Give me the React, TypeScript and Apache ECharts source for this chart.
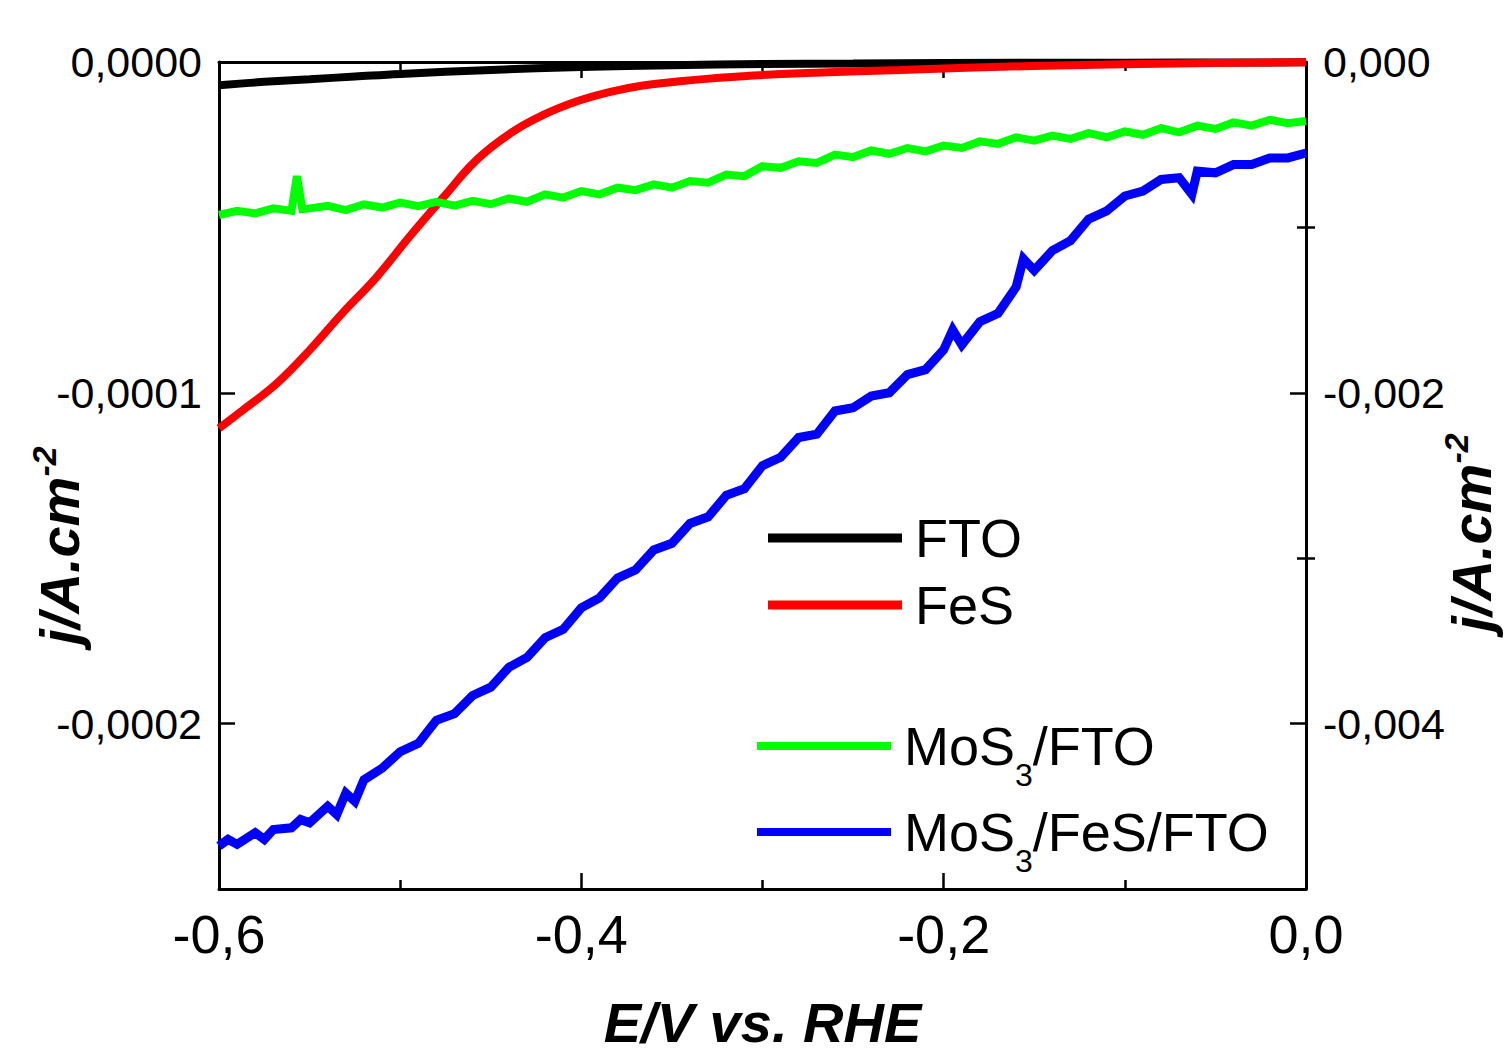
import React, { useEffect, useRef } from "react";
import * as echarts from "echarts";

// ---------- data (E in V vs. RHE, j in A/cm2) ----------
const potentialFTO = [-0.6, -0.575, -0.55, -0.525, -0.5, -0.45, -0.4, -0.35, -0.3, -0.25, -0.2, -0.1, 0];
const currentFTO = [-7.0e-6, -6.0e-6, -5.2e-6, -4.4e-6, -3.6e-6, -2.4e-6, -1.5e-6, -1.0e-6, -0.6e-6, -0.45e-6, -0.3e-6, -0.2e-6, -0.1e-6];

const potentialFeS = [-0.6, -0.587, -0.568, -0.55, -0.532, -0.513, -0.495, -0.476, -0.458, -0.439, -0.421, -0.402, -0.384, -0.366, -0.347, -0.331, -0.305, -0.279, -0.224, -0.151, -0.051, 0];
const currentFeS = [-1.107e-4, -1.053e-4, -0.971e-4, -0.871e-4, -0.760e-4, -0.650e-4, -0.529e-4, -0.408e-4, -0.297e-4, -0.215e-4, -0.160e-4, -0.118e-4, -0.090e-4, -0.071e-4, -0.059e-4, -0.051e-4, -0.041e-4, -0.034e-4, -0.024e-4, -0.012e-4, -0.003e-4, -0.001e-4];

const potentialMoS3 = [-0.6, -0.59, -0.58, -0.57, -0.56, -0.557, -0.554, -0.55, -0.54, -0.53, -0.52, -0.51, -0.5, -0.49, -0.48, -0.47, -0.46, -0.45, -0.44, -0.43, -0.42, -0.41, -0.4, -0.39, -0.38, -0.37, -0.36, -0.35, -0.34, -0.33, -0.32, -0.31, -0.3, -0.29, -0.28, -0.27, -0.26, -0.25, -0.24, -0.23, -0.22, -0.21, -0.2, -0.19, -0.18, -0.17, -0.16, -0.15, -0.14, -0.13, -0.12, -0.11, -0.1, -0.09, -0.08, -0.07, -0.06, -0.05, -0.04, -0.03, -0.02, -0.01, 0];
const currentMoS3 = [-0.925e-3, -0.900e-3, -0.915e-3, -0.885e-3, -0.900e-3, -0.690e-3, -0.890e-3, -0.885e-3, -0.870e-3, -0.895e-3, -0.860e-3, -0.880e-3, -0.850e-3, -0.872e-3, -0.845e-3, -0.868e-3, -0.840e-3, -0.860e-3, -0.825e-3, -0.845e-3, -0.800e-3, -0.820e-3, -0.780e-3, -0.800e-3, -0.760e-3, -0.775e-3, -0.740e-3, -0.760e-3, -0.720e-3, -0.730e-3, -0.680e-3, -0.690e-3, -0.630e-3, -0.640e-3, -0.600e-3, -0.610e-3, -0.560e-3, -0.575e-3, -0.535e-3, -0.555e-3, -0.520e-3, -0.540e-3, -0.505e-3, -0.520e-3, -0.480e-3, -0.495e-3, -0.455e-3, -0.475e-3, -0.445e-3, -0.465e-3, -0.430e-3, -0.455e-3, -0.420e-3, -0.440e-3, -0.400e-3, -0.425e-3, -0.385e-3, -0.405e-3, -0.365e-3, -0.385e-3, -0.350e-3, -0.370e-3, -0.357e-3];

const potentialMoS3FeS = [-0.6, -0.595, -0.59, -0.58, -0.575, -0.57, -0.56, -0.555, -0.55, -0.54, -0.535, -0.53, -0.525, -0.52, -0.51, -0.5, -0.49, -0.48, -0.47, -0.46, -0.45, -0.44, -0.43, -0.42, -0.41, -0.4, -0.39, -0.38, -0.37, -0.36, -0.35, -0.34, -0.33, -0.32, -0.31, -0.3, -0.29, -0.28, -0.27, -0.26, -0.25, -0.24, -0.23, -0.22, -0.21, -0.2, -0.195, -0.19, -0.18, -0.17, -0.16, -0.156, -0.15, -0.14, -0.13, -0.12, -0.11, -0.1, -0.09, -0.08, -0.07, -0.063, -0.06, -0.05, -0.04, -0.03, -0.02, -0.01, 0];
const currentMoS3FeS = [-4.74e-3, -4.70e-3, -4.73e-3, -4.66e-3, -4.70e-3, -4.64e-3, -4.63e-3, -4.58e-3, -4.60e-3, -4.50e-3, -4.55e-3, -4.42e-3, -4.47e-3, -4.34e-3, -4.27e-3, -4.17e-3, -4.12e-3, -3.98e-3, -3.94e-3, -3.83e-3, -3.78e-3, -3.66e-3, -3.60e-3, -3.48e-3, -3.43e-3, -3.30e-3, -3.24e-3, -3.12e-3, -3.07e-3, -2.95e-3, -2.91e-3, -2.79e-3, -2.75e-3, -2.62e-3, -2.58e-3, -2.44e-3, -2.39e-3, -2.27e-3, -2.25e-3, -2.11e-3, -2.09e-3, -2.02e-3, -2.00e-3, -1.89e-3, -1.86e-3, -1.74e-3, -1.62e-3, -1.71e-3, -1.57e-3, -1.52e-3, -1.36e-3, -1.19e-3, -1.26e-3, -1.14e-3, -1.08e-3, -0.95e-3, -0.90e-3, -0.81e-3, -0.78e-3, -0.71e-3, -0.70e-3, -0.80e-3, -0.66e-3, -0.67e-3, -0.62e-3, -0.62e-3, -0.58e-3, -0.58e-3, -0.55e-3];

const xTicks = [-0.6, -0.4, -0.2, 0];
const leftMajor = [0, -0.0001, -0.0002];
const leftMinor = [-0.00005, -0.00015];
const rightMajor = [0, -0.002, -0.004];
const rightMinor = [-0.001, -0.003];

const FONT = "Liberation Sans, Arial, Helvetica, sans-serif";

const zip = (xs: number[], ys: number[]) => xs.map((x, i) => [x, ys[i]]);

export default function App() {
  const ref = useRef<HTMLDivElement>(null);
  useEffect(() => {
    if (!ref.current) return;
    const chart = echarts.init(ref.current, undefined, { renderer: "svg" });

    const axisLineStyle = { color: "#000", width: 3 };
    const tickStyle = { color: "#000", width: 2.5 };
    const nameRich = {
      a: { fontSize: 56, fontWeight: "bold", fontStyle: "italic", fontFamily: FONT, color: "#000", lineHeight: 64 },
      sup: { fontSize: 34, fontWeight: "bold", fontStyle: "italic", fontFamily: FONT, color: "#000", lineHeight: 34, verticalAlign: "top" },
    };
    const legendRich = {
      a: { fontSize: 54, fontFamily: FONT, color: "#000", lineHeight: 60 },
      s: { fontSize: 32, fontFamily: FONT, color: "#000", lineHeight: 32, padding: [43, 0, 0, 0], verticalAlign: "top" },
    };

    const xCommon = {
      type: "value",
      min: -0.6,
      max: 0,
      interval: 0.2,
      axisLine: { show: true, onZero: false, lineStyle: axisLineStyle },
      axisTick: { show: true, inside: true, length: 16, lineStyle: tickStyle },
      minorTick: { show: true, splitNumber: 2, length: 9, lineStyle: tickStyle },
      splitLine: { show: false },
      minorSplitLine: { show: false },
    };

    const yBase = {
      type: "value",
      splitLine: { show: false },
      axisLine: { show: true, onZero: false, lineStyle: axisLineStyle },
    };

    const fmtComma = (digits: number) => (v: number) => v.toFixed(digits).replace(".", ",");

    chart.setOption({
      animation: false,
      backgroundColor: "#fff",
      grid: { left: 219, right: 204, top: 62, bottom: 167, outerBoundsMode: "none" },
      xAxis: [
        {
          ...xCommon,
          position: "bottom",
          axisLabel: {
            show: true,
            fontSize: 54,
            fontFamily: FONT,
            color: "#000",
            margin: 18,
            customValues: xTicks,
            formatter: fmtComma(1),
          },
          name: "E/V vs. RHE",
          nameLocation: "middle",
          nameGap: 105,
          nameMoveOverlap: false,
          nameTextStyle: { fontSize: 56, fontWeight: "bold", fontStyle: "italic", fontFamily: FONT, color: "#000" },
        },
        {
          ...xCommon,
          position: "top",
          axisLabel: { show: false },
        },
      ],
      yAxis: [
        {
          ...yBase,
          position: "left",
          min: -0.00025,
          max: 0,
          axisTick: { show: true, inside: true, length: 16, lineStyle: tickStyle, customValues: leftMajor },
          axisLabel: {
            show: true,
            fontSize: 43,
            fontFamily: FONT,
            color: "#000",
            margin: 17,
            customValues: leftMajor,
            formatter: fmtComma(4),
          },
          name: "{a|j/A.cm}{sup|-2}",
          nameLocation: "middle",
          nameRotate: 90,
          nameGap: 128,
          nameMoveOverlap: false,
          nameTextStyle: { rich: nameRich, padding: [0, 140, 0, 0] },
        },
        {
          ...yBase,
          position: "right",
          min: -0.005,
          max: 0,
          axisTick: { show: true, inside: true, length: 16, lineStyle: tickStyle, customValues: rightMajor },
          axisLabel: {
            show: true,
            fontSize: 43,
            fontFamily: FONT,
            color: "#000",
            margin: 17,
            customValues: rightMajor,
            formatter: fmtComma(3),
          },
          name: "{a|j/A.cm}{sup|-2}",
          nameLocation: "middle",
          nameRotate: 90,
          nameGap: 133,
          nameMoveOverlap: false,
          nameTextStyle: { rich: nameRich, padding: [0, 114, 0, 0] },
        },
        {
          ...yBase,
          position: "left",
          offset: 0,
          min: -0.00025,
          max: 0,
          axisLine: { show: false },
          axisTick: { show: true, inside: true, length: 9, lineStyle: tickStyle, customValues: leftMinor },
          axisLabel: { show: false },
        },
        {
          ...yBase,
          position: "right",
          offset: 0,
          min: -0.005,
          max: 0,
          axisLine: { show: false },
          axisTick: { show: true, inside: true, length: 9, lineStyle: tickStyle, customValues: rightMinor },
          axisLabel: { show: false },
        },
      ],
      legend: [
        {
          data: ["FTO", "FeS"],
          orient: "vertical",
          left: 768,
          top: 508,
          padding: 0,
          itemWidth: 134,
          itemHeight: 9,
          itemGap: 7,
          icon: "rect",
          selectedMode: false,
          itemStyle: { borderWidth: 0 },
          textStyle: { fontSize: 54, fontFamily: FONT, color: "#000", lineHeight: 60, padding: [0, 0, 0, 8] },
        },
        {
          data: ["MoS3/FTO", "MoS3/FeS/FTO"],
          orient: "vertical",
          left: 757,
          top: 716,
          padding: 0,
          itemWidth: 134,
          itemHeight: 8,
          itemGap: 11,
          icon: "rect",
          selectedMode: false,
          itemStyle: { borderWidth: 0 },
          formatter: (name: string) => `{a|MoS}{s|3}{a|${name.slice(4)}}`,
          textStyle: { fontSize: 54, fontFamily: FONT, color: "#000", rich: legendRich, padding: [0, 0, 0, 8] },
        },
      ],
      series: [
        {
          name: "FTO",
          type: "line",
          xAxisIndex: 0,
          yAxisIndex: 0,
          data: zip(potentialFTO, currentFTO),
          symbol: "none",
          smooth: 0.4,
          clip: false,
          lineStyle: { color: "#000000", width: 8 },
          itemStyle: { color: "#000000" },
        },
        {
          name: "FeS",
          type: "line",
          xAxisIndex: 0,
          yAxisIndex: 0,
          data: zip(potentialFeS, currentFeS),
          symbol: "none",
          smooth: 0.4,
          clip: false,
          lineStyle: { color: "#ff0000", width: 8 },
          itemStyle: { color: "#ff0000" },
        },
        {
          name: "MoS3/FTO",
          type: "line",
          xAxisIndex: 0,
          yAxisIndex: 1,
          data: zip(potentialMoS3, currentMoS3),
          symbol: "none",
          clip: false,
          lineStyle: { color: "#00ff00", width: 8, join: "miter" },
          itemStyle: { color: "#00ff00" },
        },
        {
          name: "MoS3/FeS/FTO",
          type: "line",
          xAxisIndex: 0,
          yAxisIndex: 1,
          data: zip(potentialMoS3FeS, currentMoS3FeS),
          symbol: "none",
          clip: false,
          lineStyle: { color: "#0000ff", width: 9, join: "miter" },
          itemStyle: { color: "#0000ff" },
        },
      ],
    });
    return () => chart.dispose();
  }, []);

  return (
    <div
      ref={ref}
      style={{ position: "absolute", left: 0, top: 0, width: 1510, height: 1056, background: "#fff" }}
    />
  );
}
